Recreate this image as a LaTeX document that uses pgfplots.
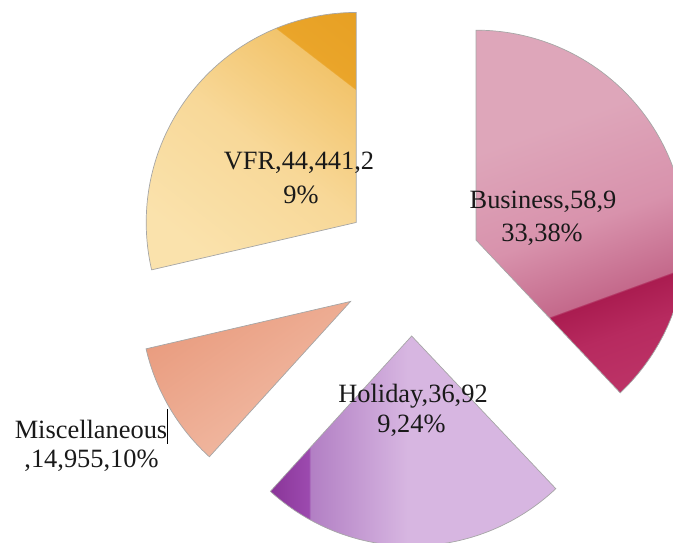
\documentclass[border=0pt]{standalone}
\usepackage{pgfplots}
\pgfplotsset{compat=1.18}
\usepackage{fontspec}
\setmainfont{Liberation Serif}

% Business
\definecolor{bizA}{HTML}{DEA6BA}
\definecolor{bizB}{HTML}{D892AC}
\definecolor{bizC}{HTML}{C4698B}
\definecolor{bizD}{HTML}{AA1C50}
\definecolor{bizE}{HTML}{B72A5F}
\definecolor{bizF}{HTML}{CA4A7B}
% Holiday
\definecolor{holA}{HTML}{8A3598}
\definecolor{holB}{HTML}{9C4AAF}
\definecolor{holC}{HTML}{B27FC4}
\definecolor{holD}{HTML}{D7B6E1}
% Miscellaneous
\definecolor{misA}{HTML}{E58F72}
\definecolor{misB}{HTML}{E99C7F}
\definecolor{misC}{HTML}{F2BEA8}
% VFR
\definecolor{vfrA}{HTML}{FAE2AC}
\definecolor{vfrB}{HTML}{F8D898}
\definecolor{vfrC}{HTML}{F2C46C}
\definecolor{vfrD}{HTML}{EAA52A}
\definecolor{vfrE}{HTML}{E39A1C}

\pgfdeclarehorizontalshading{bizshade}{100bp}{color(0bp)=(bizA); color(36bp)=(bizA); color(52bp)=(bizB); color(63.7bp)=(bizC); color(63.9bp)=(bizD); color(70bp)=(bizE); color(100bp)=(bizF)}
\pgfdeclarehorizontalshading{holshade}{100bp}{color(0bp)=(holA); color(25bp)=(holA); color(31.8bp)=(holB); color(32bp)=(holC); color(49bp)=(holD); color(100bp)=(holD)}
\pgfdeclarehorizontalshading{misshade}{100bp}{color(0bp)=(misA); color(25bp)=(misB); color(75bp)=(misC); color(100bp)=(misC)}
\pgfdeclarehorizontalshading{vfrshade}{100bp}{color(0bp)=(vfrA); color(25bp)=(vfrA); color(50bp)=(vfrB); color(72bp)=(vfrC); color(72.2bp)=(vfrD); color(100bp)=(vfrE)}

\tikzset{
  slice/.style={shade, draw=black!35, line width=0.7bp},
  lab/.style={font=\fontsize{26.5}{30}\selectfont, anchor=base, inner sep=0pt, text=black!90},
}

% values (thousands of visitors)
\def\vBusiness{58.933}
\def\vHoliday{36.929}
\def\vMisc{14.955}
\def\vVFR{44.441}

\begin{document}
\begin{tikzpicture}
\pgfmathsetmacro{\tot}{\vBusiness+\vHoliday+\vMisc+\vVFR}
\pgfmathsetmacro{\aA}{360*(\vBusiness/\tot)}
\pgfmathsetmacro{\aB}{\aA+360*(\vHoliday/\tot)}
\pgfmathsetmacro{\aC}{\aB+360*(\vMisc/\tot)}
\pgfmathsetmacro{\aD}{360}
\def\cx{411}\def\cy{266}\def\dd{70}\def\rr{210}
\pgfmathsetmacro{\mA}{\aA/2}
\pgfmathsetmacro{\mB}{(\aA+\aB)/2}
\pgfmathsetmacro{\mC}{(\aB+\aC)/2}
\pgfmathsetmacro{\mD}{(\aC+\aD)/2}
\pgfmathsetmacro{\pAx}{\cx+\dd*sin(\mA)}\pgfmathsetmacro{\pAy}{\cy-\dd*cos(\mA)}
\pgfmathsetmacro{\pBx}{\cx+\dd*sin(\mB)}\pgfmathsetmacro{\pBy}{\cy-\dd*cos(\mB)}
\pgfmathsetmacro{\pCx}{\cx+\dd*sin(\mC)}\pgfmathsetmacro{\pCy}{\cy-\dd*cos(\mC)}
\pgfmathsetmacro{\pDx}{\cx+\dd*sin(\mD)}\pgfmathsetmacro{\pDy}{\cy-\dd*cos(\mD)}
\begin{axis}[
  width=673bp, height=543bp, scale only axis,
  xmin=0, xmax=673, ymin=0, ymax=543, y dir=reverse,
  hide axis, clip=true,
]
\addplot[slice, samples=120, shading=bizshade, shading angle=-70, domain=0:\aA]
  ({\pAx+\rr*sin(x)}, {\pAy-\rr*cos(x)}) -- (axis cs:\pAx,\pAy) -- cycle;
\addplot[slice, samples=120, shading=holshade, shading angle=0, domain=\aA:\aB]
  ({\pBx+\rr*sin(x)}, {\pBy-\rr*cos(x)}) -- (axis cs:\pBx,\pBy) -- cycle;
\addplot[slice, samples=120, shading=misshade, shading angle=-55, domain=\aB:\aC]
  ({\pCx+\rr*sin(x)}, {\pCy-\rr*cos(x)}) -- (axis cs:\pCx,\pCy) -- cycle;
\addplot[slice, samples=120, shading=vfrshade, shading angle=52.4, domain=\aC:\aD]
  ({\pDx+\rr*sin(x)}, {\pDy-\rr*cos(x)}) -- (axis cs:\pDx,\pDy) -- cycle;

\node[lab] at (axis cs:543,208) {Business,58,9};
\node[lab] at (axis cs:542,241) {33,38\%};
\node[lab] at (axis cs:413,402) {Holiday,36,92};
\node[lab] at (axis cs:411.5,432) {9,24\%};
\node[lab] at (axis cs:91,438) {Miscellaneous};
\node[lab] at (axis cs:91.5,467) {,14,955,10\%};
\node[lab] at (axis cs:299,169) {VFR,44,441,2};
\node[lab] at (axis cs:301,203) {9\%};
\draw[black, line width=1.6bp] (axis cs:167.5,409) -- (axis cs:167.5,444);
\end{axis}
\pgfresetboundingbox
\path[use as bounding box] (0,0) rectangle (673bp,543bp);
\end{tikzpicture}
\end{document}
